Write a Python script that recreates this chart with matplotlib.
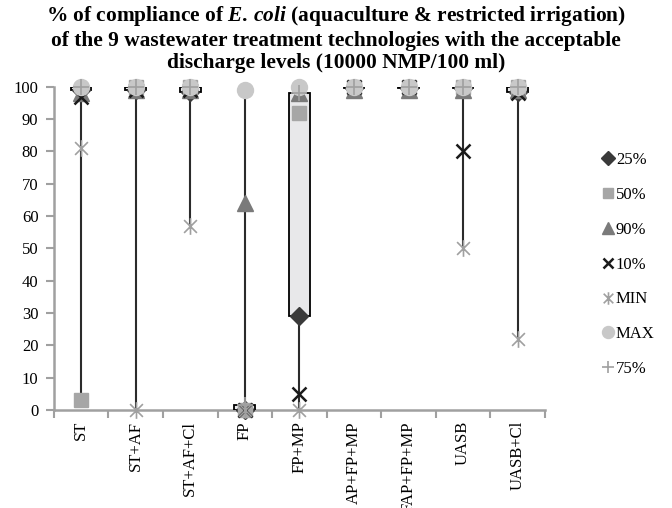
import numpy as np
import matplotlib.pyplot as plt
from matplotlib.path import Path
from matplotlib.patches import Rectangle

plt.rcParams['font.family'] = ['Liberation Serif', 'DejaVu Serif']
plt.rcParams['mathtext.fontset'] = 'custom'
plt.rcParams['mathtext.rm'] = 'Liberation Serif:bold'
plt.rcParams['mathtext.it'] = 'Liberation Serif:italic:bold'

technologies = ['ST', 'ST+AF', 'ST+AF+Cl', 'FP', 'FP+MP',
                'AP+FP+MP', 'FAP+FP+MP', 'UASB', 'UASB+Cl']

p25 = [99, 99, 98.5, 0, 29, 99.5, 99.5, 99.5, 98.5]
p50 = [3, 100, 100, 0, 92, 100, 100, 100, 100]
p90 = [98, 99, 99, 64, 98, 99, 99, 99, 99]
p10 = [97, 99, 99, 0, 5, 100, 100, 80, 98]
p_min = [81, 0, 57, 0, 0, 100, 100, 50, 22]
p_max = [100, 100, 100, 99, 100, 100, 100, 100, 100]
p75 = [100, 100, 100, 1.5, 98, 100, 100, 100, 100]

# asterisk marker (x with a vertical stroke)
star_verts = [(-1, -1), (1, 1), (-1, 1), (1, -1), (0, -1.3), (0, 1.3)]
star_codes = [Path.MOVETO, Path.LINETO] * 3
star = Path(star_verts, star_codes)

fig = plt.figure(figsize=(6.72, 5.08), dpi=100)
ax = fig.add_axes([0.080, 0.193, 0.731, 0.636])

x = np.arange(len(technologies))
everything = np.array([p25, p50, p90, p10, p_min, p_max, p75])
low = everything.min(axis=0)
high = everything.max(axis=0)

# high-low lines
for xi, lo, hi in zip(x, low, high):
    ax.plot([xi, xi], [lo, hi], color='#2b2b2b', lw=1.5, zorder=1)

# up/down bars between the 25% and 75% series
bw = 0.38
for xi, a, b in zip(x, p25, p75):
    ax.add_patch(Rectangle((xi - bw / 2, min(a, b)), bw, abs(b - a),
                           facecolor='#e8e8ea', edgecolor='black', lw=1.3, zorder=2))

style = dict(ls='none', clip_on=False)
ax.plot(x, p25, marker='D', ms=9, color='#3a3a3a', label='25%', zorder=3, **style)
ax.plot(x, p50, marker='s', ms=10.5, color='#a6a6a6', label='50%', zorder=4, **style)
ax.plot(x, p90, marker='^', ms=12, color='#7a7a7a', label='90%', zorder=5, **style)
ax.plot(x, p10, marker='x', ms=10.5, mew=1.8, color='#1a1a1a', label='10%', zorder=6, **style)
ax.plot(x, p_min, marker=star, ms=12, mew=1.2, color='#a0a0a0',
        markerfacecolor='none', label='MIN', zorder=7, **style)
ax.plot(x, p_max, marker='o', ms=11.5, color='#c8c8c8', label='MAX', zorder=8, **style)
ax.plot(x, p75, marker='+', ms=11, mew=1.2, color='#a0a0a0', label='75%', zorder=9, **style)

ax.set_xlim(-0.5, len(technologies) - 0.5)
ax.set_ylim(0, 100)
ax.set_yticks(np.arange(0, 101, 10))
ax.set_xticks(x)
ax.set_xticklabels(technologies, rotation=90, fontsize=12)
ax.tick_params(axis='x', length=0, pad=8)
ax.set_xticks(np.arange(-0.5, len(technologies)), minor=True)
ax.tick_params(axis='x', which='minor', length=6, color='#a0a0a0', width=1.5)
ax.tick_params(axis='y', labelsize=12, length=6, color='#a0a0a0', width=1.5,
               direction='out', pad=5)

for side in ['top', 'right']:
    ax.spines[side].set_visible(False)
for side in ['left', 'bottom']:
    ax.spines[side].set_color('#a0a0a0')
    ax.spines[side].set_linewidth(1.8)
ax.spines['bottom'].set_zorder(0.5)

handles, labels = ax.get_legend_handles_labels()
fig.legend(handles, labels, loc='upper left', bbox_to_anchor=(0.888, 0.7136),
           frameon=False, fontsize=12, labelspacing=1.13, handlelength=0.6,
           handletextpad=0.15, borderaxespad=0, markerscale=0.75)

fig.text(0.5, 0.992,
         '% of compliance of $\\it{E.\\,coli}$ (aquaculture & restricted irrigation)\n'
         'of the 9 wastewater treatment technologies with the acceptable\n'
         'discharge levels (10000 NMP/100 ml)',
         ha='center', va='top', fontsize=15.4, fontweight='bold', linespacing=1.17)

fig.savefig('out.png', dpi=100)
